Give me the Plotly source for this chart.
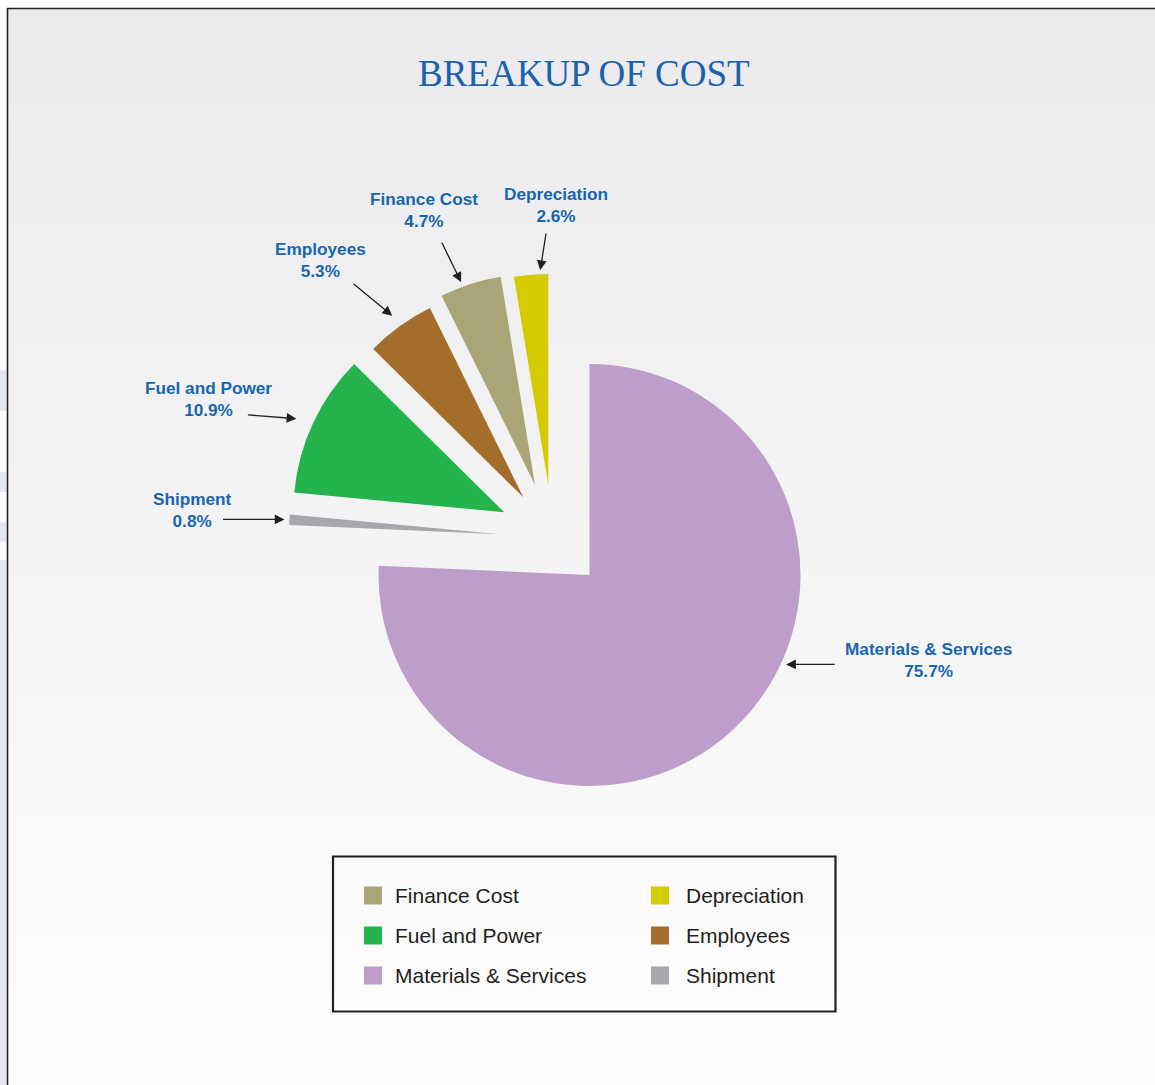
import math
import plotly.graph_objects as go

W, H = 1155, 1085

# ---------------- data ----------------
categories = ["Materials & Services", "Shipment", "Fuel and Power",
              "Employees", "Finance Cost", "Depreciation"]
shares = [75.7, 0.8, 10.9, 5.3, 4.7, 2.6]
legend_order = ["Finance Cost", "Depreciation", "Fuel and Power",
                "Employees", "Materials & Services", "Shipment"]
title_text = "BREAKUP OF COST"

# ---------------- style ----------------
colors = ["#bd9dca", "#a7a8ab", "#25b34e", "#a46d2c", "#aaa576", "#d6ca00"]
label_color = "#1866b0"
ink = "#231f20"

CX, CY, R = 589.5, 575.0, 211.0          # pie centre / radius in px
explode_dx = [0, -89.5, -85.2, -66.2, -54.5, -41.2]
explode_dy = [0, -40.7, -62.7, -77.7, -90.0, -90.0]

arrow_frac = [0.42, 0.5, 0.48, 0.5, 0.37, 0.77]   # position of arrow tip along slice
arrow_gap = [5, 5, 17, 13, 5, 4]
arrow_tail = [(50, 0), (-63, 0), (-50, -4), (-40, -33), (-20, -41), (6, -38)]
label_xy = [(928, 659.5), (192, 509.5), (208, 398.5), (320, 260.5),
            (424, 209.5), (556, 204.5)]

def px(x):
    return x / W

def py(y):
    return 1 - y / H

fig = go.Figure()

# ---------------- background ----------------
shapes = []
n_bands = 90
top, bottom = 9, H
c0, c1 = (235, 235, 237), (253, 253, 253)
for k in range(n_bands):
    t = k / (n_bands - 1)
    col = tuple(round(c0[j] + (c1[j] - c0[j]) * t) for j in range(3))
    ya = top + (bottom - top) * k / n_bands
    yb = top + (bottom - top) * (k + 1) / n_bands + 0.6
    shapes.append(dict(type="rect", xref="paper", yref="paper", layer="below",
                       x0=px(8), x1=1.0, y0=py(min(yb, H)), y1=py(ya),
                       fillcolor="rgb(%d,%d,%d)" % col, line=dict(width=0)))
# faint decorations on left strip
for (ya, yb) in [(370, 411), (472, 492), (522, 542), (560, 1085)]:
    shapes.append(dict(type="rect", xref="paper", yref="paper", layer="below",
                       x0=0, x1=px(6.5), y0=py(yb), y1=py(ya),
                       fillcolor="#e3e7f2", line=dict(width=0)))
# frame lines
shapes.append(dict(type="line", xref="paper", yref="paper", layer="below",
                   x0=px(7), x1=1.0, y0=py(8.5), y1=py(8.5),
                   line=dict(color=ink, width=1.6)))
shapes.append(dict(type="line", xref="paper", yref="paper", layer="below",
                   x0=px(7.5), x1=px(7.5), y0=0, y1=py(8),
                   line=dict(color=ink, width=1.6)))

# ---------------- pie slices (each exploded separately) ----------------
total = sum(shares)
n = len(categories)
starts = []
acc = 0.0
for v in shares:
    starts.append(acc / total * 360.0)
    acc += v
spans = [v / total * 360.0 for v in shares]

for i, cat in enumerate(categories):
    cx = CX + explode_dx[i]
    cy = CY + explode_dy[i]
    cols = [colors[j] if j == i else "rgba(0,0,0,0)" for j in range(n)]
    fig.add_trace(go.Pie(
        labels=categories, values=shares, sort=False,
        direction="clockwise", rotation=0,
        marker=dict(colors=cols, line=dict(width=0)),
        textinfo="none", hoverinfo="none", showlegend=False,
        domain=dict(x=[px(cx - R), px(cx + R)], y=[py(cy + R), py(cy - R)]),
    ))

annotations = []
# title
annotations.append(dict(text=title_text, x=px(583.5), y=py(73), xref="paper", yref="paper",
                        xanchor="center", yanchor="middle", showarrow=False,
                        font=dict(family="Liberation Serif", size=37, color="#1a62ad")))

# labels + arrows
for i, cat in enumerate(categories):
    cx = CX + explode_dx[i]
    cy = CY + explode_dy[i]
    ang = math.radians(starts[i] + arrow_frac[i] * spans[i])
    rr = R + arrow_gap[i]
    tx = cx + rr * math.sin(ang)
    ty = cy - rr * math.cos(ang)
    annotations.append(dict(text="", x=px(tx), y=py(ty), xref="paper", yref="paper",
                            showarrow=True, ax=arrow_tail[i][0], ay=arrow_tail[i][1],
                            arrowhead=2, arrowsize=1.5, arrowwidth=1.3, arrowcolor=ink))
    lx, ly = label_xy[i]
    annotations.append(dict(text="%s<br>%.1f%%" % (cat, shares[i]),
                            x=px(lx), y=py(ly), xref="paper", yref="paper",
                            xanchor="center", yanchor="middle", showarrow=False,
                            align="center",
                            font=dict(family="Liberation Sans", size=17.2,
                                      color=label_color, weight="bold")))

# ---------------- legend (drawn) ----------------
shapes.append(dict(type="rect", xref="paper", yref="paper",
                   x0=px(333), x1=px(835.5), y0=py(1011.5), y1=py(856.5),
                   fillcolor="rgba(0,0,0,0)", line=dict(color=ink, width=2.2)))
col_sq_x = [364, 651]
col_txt_x = [392.5, 683.5]
for k, cat in enumerate(legend_order):
    col, row = k % 2, k // 2
    yc = 895.5 + 40 * row
    c = colors[categories.index(cat)]
    shapes.append(dict(type="rect", xref="paper", yref="paper",
                       x0=px(col_sq_x[col]), x1=px(col_sq_x[col] + 18),
                       y0=py(yc + 9), y1=py(yc - 9),
                       fillcolor=c, line=dict(width=0)))
    annotations.append(dict(text=cat, x=px(col_txt_x[col]), y=py(yc), xref="paper", yref="paper",
                            xanchor="left", yanchor="middle", showarrow=False,
                            font=dict(family="Liberation Sans", size=21, color=ink)))

fig.update_layout(
    width=W, height=H, autosize=False,
    margin=dict(l=0, r=0, t=0, b=0),
    paper_bgcolor="white", plot_bgcolor="white",
    shapes=shapes, annotations=annotations,
    showlegend=False,
)

fig.write_html("out.html", config={"displayModeBar": False})
